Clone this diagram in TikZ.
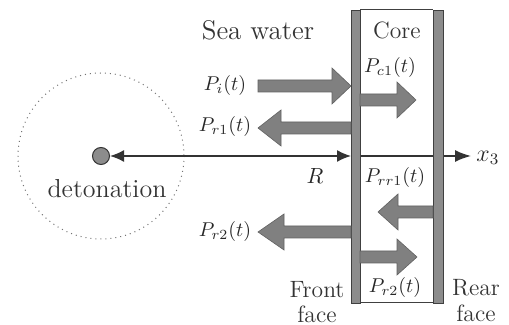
\documentclass[tikz,border=0pt]{standalone}
\usetikzlibrary{arrows.meta}
\tikzset{
  wall/.style={fill=black!45, draw=black!75, line width=0.4pt},
  blk/.style={fill=black!50, draw=black!62, line width=0.3pt},
  axisline/.style={draw=black!80, line width=0.8pt},
  lbl/.style={font=\fontsize{9.8}{12}\selectfont, inner sep=0pt, text=black!85},
  txt/.style={font=\rmfamily\fontsize{11.8}{13}\selectfont, inner sep=0pt, text=black!80},
}
\newcommand{\blkarr}[4]{% tail x, head base x, tip x, y
  \path[blk] ({#1},{#4-6}) -- ({#2},{#4-6}) -- ({#2},{#4-18}) -- ({#3},{#4})
    -- ({#2},{#4+18}) -- ({#2},{#4+6}) -- ({#1},{#4+6}) -- cycle;}
\begin{document}
\begin{tikzpicture}[x=0.5pt,y=-0.5pt]
\useasboundingbox (0,0) rectangle (509,325);
% dotted circle
\draw[black!55, line width=0.5pt, dotted] (101,156) circle (83);
% detonation dot
\node[circle, fill=black!45, draw=black!80, line width=0.5pt, minimum size=8.5pt, inner sep=0pt] (det) at (101,156) {};
\node[txt, font=\rmfamily\fontsize{13}{15}\selectfont] (detlbl) at (107,189) {detonation};
% axis
\coordinate (ff) at (351,156);
\coordinate (xend) at (471,156);
\draw[axisline, {Latex[length=7pt,width=6pt]}-{Latex[length=7pt,width=6pt]}] (det.east) -- (ff);
\draw[axisline, -{Latex[length=8pt,width=6pt]}] (ff) -- (xend);
\node[lbl, anchor=west, font=\fontsize{11.5}{14}\selectfont] (x3) at (476,158) {$x_3$};
\node[lbl, font=\fontsize{10.5}{13}\selectfont] (R) at (315,176) {$R$};
% walls
\draw[black!75, line width=0.5pt] (360,10) -- (433,10);
\draw[black!75, line width=0.5pt] (360,303) -- (433,303);
\path[wall] (351,10) rectangle (360,303);
\path[wall] (433,10) rectangle (443,303);
% block arrows
\blkarr{258}{332}{351}{86}
\blkarr{360}{397}{416}{100}
\blkarr{351}{281}{258}{128}
\blkarr{433}{398}{378}{212}
\blkarr{351}{284}{258}{232}
\blkarr{360}{397}{417}{257}
% labels
\node[txt, font=\rmfamily\fontsize{13.5}{16}\selectfont] (sea) at (258,30) {Sea water};
\node[txt] (core) at (397,30) {Core};
\node[lbl] (Pi) at (225,86) {$P_i(t)$};
\node[lbl] (Pc1) at (390,68) {$P_{c1}(t)$};
\node[lbl] (Pr1) at (225,127) {$P_{r1}(t)$};
\node[lbl] (Prr1) at (395,178) {$P_{rr1}(t)$};
\node[lbl] (Pr2) at (225,232) {$P_{r2}(t)$};
\node[lbl] (Pc2) at (395,288) {$P_{r2}(t)$};
\node[txt] (front) at (317,290) {Front};
\node[txt] (fface) at (317,314) {face};
\node[txt] (rear) at (476,288) {Rear};
\node[txt] (rface) at (476,313) {face};
\end{tikzpicture}
\end{document}
